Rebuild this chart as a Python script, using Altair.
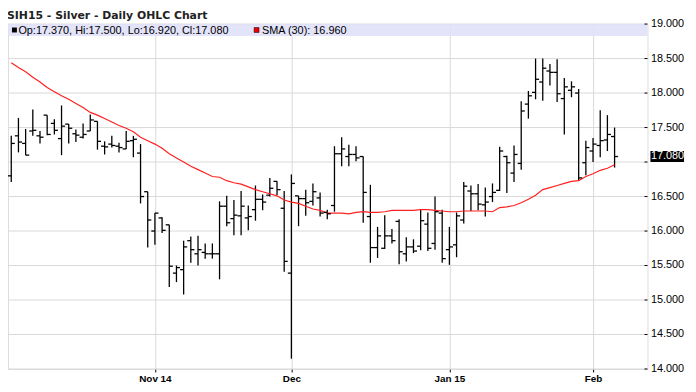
import altair as alt
import pandas as pd

opens = [16.80, 17.38, 17.27, 17.45, 17.38, 17.68, 17.56, 17.34, 17.55, 17.41,
         17.36, 17.45, 17.59, 17.23, 17.26, 17.23, 17.19, 17.31, 17.13, 16.57,
         16.00, 16.19, 16.09, 15.39, 15.44, 15.86, 15.67, 15.69, 15.67, 15.67,
         16.36, 16.18, 16.22, 16.19, 16.31, 16.46, 16.52, 16.72, 16.33, 15.39,
         16.51, 16.47, 16.43, 16.48, 16.27, 16.37, 17.12, 17.08, 17.11, 17.08,
         16.21, 15.76, 15.75, 15.93, 16.14, 15.67, 15.77, 15.78, 16.10, 15.82,
         16.26, 15.73, 15.80, 16.16, 16.58, 16.54, 16.38, 16.50, 16.59, 17.08,
         16.84, 16.98, 17.84, 18.01, 18.16, 18.32, 18.30, 17.92, 18.04, 18.00,
         16.99, 17.16, 17.24, 17.32, 17.37]
highs = [17.38, 17.64, 17.48, 17.76, 17.45, 17.68, 17.62, 17.82, 17.55, 17.47,
         17.56, 17.69, 17.59, 17.30, 17.38, 17.28, 17.45, 17.38, 17.26, 16.57,
         16.26, 16.20, 16.09, 15.50, 15.86, 15.92, 15.93, 15.82, 15.82, 16.43,
         16.51, 16.45, 16.58, 16.37, 16.66, 16.53, 16.77, 16.72, 16.58, 16.82,
         16.51, 16.60, 16.69, 16.56, 16.31, 17.23, 17.36, 17.25, 17.23, 17.08,
         16.67, 16.06, 16.23, 16.03, 16.17, 15.91, 15.88, 16.31, 16.27, 16.50,
         16.31, 16.06, 16.27, 16.71, 16.66, 16.68, 16.63, 16.69, 17.22, 17.09,
         17.24, 17.88, 18.03, 18.50, 18.50, 18.42, 18.49, 18.22, 18.17, 18.06,
         17.31, 17.35, 17.75, 17.68, 17.50]
lows = [16.71, 17.14, 17.10, 17.38, 17.27, 17.39, 17.40, 17.10, 17.27, 17.29,
        17.34, 17.45, 17.18, 17.11, 17.21, 17.14, 17.19, 17.07, 16.40, 15.76,
        15.80, 15.97, 15.19, 15.26, 15.08, 15.54, 15.50, 15.60, 15.60, 15.30,
        16.07, 15.94, 15.94, 16.01, 16.15, 16.30, 16.50, 16.52, 15.41, 14.15,
        16.07, 16.22, 16.37, 16.21, 16.17, 16.28, 16.94, 16.94, 17.01, 16.12,
        15.54, 15.61, 15.74, 15.82, 15.52, 15.56, 15.68, 15.72, 15.71, 15.73,
        15.54, 15.51, 15.62, 16.11, 16.29, 16.30, 16.21, 16.42, 16.58, 16.55,
        16.71, 16.89, 17.63, 17.91, 17.89, 18.11, 17.87, 17.40, 17.94, 16.73,
        16.81, 17.00, 17.07, 17.16, 16.92]
closes = [17.27, 17.29, 17.10, 17.46, 17.36, 17.40, 17.46, 17.52, 17.49, 17.39,
          17.40, 17.61, 17.30, 17.22, 17.24, 17.21, 17.30, 17.33, 16.50, 16.16,
          16.26, 16.01, 15.49, 15.47, 15.77, 15.73, 15.73, 15.67, 15.67, 16.36,
          16.12, 16.23, 16.36, 16.21, 16.46, 16.42, 16.62, 16.60, 15.56, 16.69,
          16.47, 16.41, 16.57, 16.26, 16.25, 17.12, 17.19, 17.11, 17.06, 16.56,
          15.76, 15.93, 15.93, 15.86, 15.70, 15.77, 15.71, 16.15, 15.75, 16.28,
          15.60, 15.77, 16.22, 16.65, 16.54, 16.39, 16.42, 16.56, 17.16, 16.99,
          17.11, 17.74, 17.96, 18.20, 18.36, 18.30, 17.99, 18.09, 18.09, 16.77,
          17.21, 17.26, 17.31, 17.40, 17.08]
sma30 = [18.44, 18.37, 18.31, 18.23, 18.16, 18.08, 18.02, 17.96, 17.91, 17.85,
         17.79, 17.72, 17.68, 17.63, 17.58, 17.53, 17.49, 17.44, 17.36, 17.31,
         17.26, 17.20, 17.12, 17.06, 17.00, 16.94, 16.89, 16.84, 16.79, 16.78,
         16.73, 16.70, 16.68, 16.64, 16.60, 16.57, 16.54, 16.51, 16.45, 16.42,
         16.40, 16.36, 16.32, 16.30, 16.26, 16.26, 16.26, 16.25, 16.27, 16.28,
         16.27, 16.27, 16.28, 16.30, 16.30, 16.30, 16.30, 16.31, 16.31, 16.30,
         16.29, 16.28, 16.28, 16.29, 16.29, 16.29, 16.29, 16.28, 16.34, 16.35,
         16.37, 16.41, 16.46, 16.52, 16.60, 16.63, 16.66, 16.69, 16.72, 16.73,
         16.79, 16.83, 16.88, 16.91, 16.96]

month_labels = ["Nov 14", "Dec", "Jan 15", "Feb"]
month_start_bar = [20, 39, 61, 81]
y_ticks = [14.0, 14.5, 15.0, 15.5, 16.0, 16.5, 17.0, 17.5, 18.0, 18.5, 19.0]

W, H = 647, 349
FONT = "Liberation Sans"

df = pd.DataFrame({"i": list(range(len(opens))), "o": opens, "h": highs,
                   "l": lows, "c": closes, "sma": sma30})
last = df.iloc[[-1]]
one = df.iloc[[0]]
ytick_df = pd.DataFrame({"v": y_ticks})

label_expr = " : ".join(
    f"datum.value == {b} ? '{t}'" for b, t in zip(month_start_bar, month_labels)
) + " : ''"

xscale = alt.Scale(domain=[-0.454, 88.58], nice=False, zero=False)
yscale = alt.Scale(domain=[14, 19], nice=False, zero=False)

x_axis = alt.Axis(values=month_start_bar, labelExpr=label_expr, grid=True,
                  gridColor="#d9d9d9", domain=False, ticks=True, tickSize=3,
                  tickColor="#000", labelFont=FONT, labelFontSize=10,
                  labelFontWeight="bold", labelColor="#000", labelPadding=2,
                  labelOverlap=False, title=None)

# horizontal grid (drawn first, behind everything)
hgrid = alt.Chart(ytick_df).mark_rule(color="#d9d9d9", strokeWidth=1).encode(
    y=alt.Y("v:Q", scale=yscale, axis=None), x=alt.value(0), x2=alt.value(W)
)

base = alt.Chart(df)

hl = base.mark_rule(color="#000", strokeWidth=1.3).encode(
    x=alt.X("i:Q", scale=xscale, axis=x_axis),
    y=alt.Y("l:Q", scale=yscale, axis=None),
    y2="h:Q",
)
op = base.mark_rule(color="#000", strokeWidth=1.3, xOffset=-3.6).encode(
    x=alt.X("i:Q", scale=xscale), x2="i:Q",
    y=alt.Y("o:Q", scale=yscale, axis=None),
)
cl = base.mark_rule(color="#000", strokeWidth=1.3, x2Offset=3.6).encode(
    x=alt.X("i:Q", scale=xscale), x2="i:Q",
    y=alt.Y("c:Q", scale=yscale, axis=None),
)
sma_line = base.mark_line(color="#ff2020", strokeWidth=1.2).encode(
    x=alt.X("i:Q", scale=xscale),
    y=alt.Y("sma:Q", scale=yscale, axis=None),
)

inner_ticks = alt.Chart(ytick_df).mark_rule(color="#000", strokeWidth=1).encode(
    y=alt.Y("v:Q", scale=yscale, axis=None), x=alt.value(W - 3), x2=alt.value(W)
)
ylabels = alt.Chart(ytick_df).transform_filter("datum.v != 17").mark_text(
    font=FONT, fontSize=11, color="#000", align="left", baseline="middle"
).encode(
    y=alt.Y("v:Q", scale=yscale, axis=None), x=alt.value(W + 3.5),
    text=alt.Text("v:Q", format=".3f"),
)

band = alt.Chart(one).mark_rect(color="#e0e0fa", opacity=0.9).encode(
    x=alt.value(0), x2=alt.value(W), y=alt.value(0), y2=alt.value(12)
)
o_, h_, l_, c_ = opens[-1], highs[-1], lows[-1], closes[-1]
legend_text = f"Op:{o_:.3f}, Hi:{h_:.3f}, Lo:{l_:.3f}, Cl:{c_:.3f}"
sma_text = f"SMA (30): {sma30[-1]:.3f}"
sq1 = alt.Chart(one).mark_rect(color="#000").encode(
    x=alt.value(4), x2=alt.value(9), y=alt.value(3.5), y2=alt.value(8.5))
sq2 = alt.Chart(one).mark_rect(color="#ee0000", stroke="#000", strokeWidth=0.5).encode(
    x=alt.value(249), x2=alt.value(254), y=alt.value(3.5), y2=alt.value(8.5))
t1 = alt.Chart(one).mark_text(text=legend_text, font=FONT, fontSize=11,
                              align="left", baseline="alphabetic", color="#000").encode(
    x=alt.value(10.5), y=alt.value(10))
t2 = alt.Chart(one).mark_text(text=sma_text, font=FONT, fontSize=11,
                              align="left", baseline="alphabetic", color="#000").encode(
    x=alt.value(257), y=alt.value(10))
title = alt.Chart(one).mark_text(text="SIH15 - Silver - Daily OHLC Chart",
                                 font="DejaVu Sans", fontSize=11, fontWeight="bold",
                                 align="left", baseline="alphabetic",
                                 color="#222").encode(
    x=alt.value(-1), y=alt.value(-5))

price_box = alt.Chart(last).mark_rect(color="#000", yOffset=-5.5, y2Offset=5.5).encode(
    y=alt.Y("c:Q", scale=yscale, axis=None), y2="c:Q",
    x=alt.value(W + 3), x2=alt.value(W + 37))
price_txt = alt.Chart(last).mark_text(font=FONT, fontSize=11, color="#fff",
                                      align="left", baseline="middle").encode(
    y=alt.Y("c:Q", scale=yscale, axis=None), x=alt.value(W + 3.5),
    text=alt.Text("c:Q", format=".3f"))

chart = alt.layer(
    hgrid, hl, band, sma_line, op, cl, inner_ticks, ylabels,
    sq1, sq2, t1, t2, title, price_box, price_txt
).properties(
    width=W, height=H,
    autosize=alt.AutoSizeParams(type="none"),
    padding={"left": 0, "top": 14, "right": 41, "bottom": 21},
).configure_view(stroke="#000", strokeWidth=1).configure(background="#fff")

chart.save("out.html", embed_options={"renderer": "svg", "actions": False})
